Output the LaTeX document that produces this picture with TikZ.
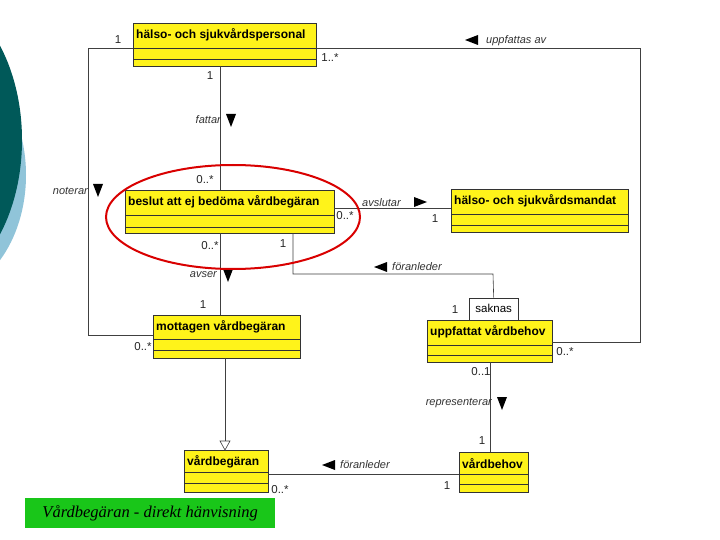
\documentclass[tikz,border=0pt]{standalone}
\usepackage{fontspec}
\setmainfont{Liberation Sans}
\newfontfamily\serifit{Liberation Serif}
\begin{document}
\begin{tikzpicture}[x=1pt,y=-1pt,
  lbl/.style={font=\fontsize{11.5}{13}\selectfont,inner sep=0pt,text=black!85},
  rl/.style={font=\fontsize{11}{13}\selectfont\itshape,inner sep=0pt,text=black!80},
  ln/.style={draw=black!75,line width=0.6pt},
  cn/.style={font=\fontsize{12}{14}\selectfont\bfseries,inner sep=0pt}]
\useasboundingbox (0,0) rectangle (720,540);
\fill[white] (0,0) rectangle (720,540);
% decoration
\fill[cyan!40!teal!50!white] (-62,175) ellipse (88 and 120);
\fill[teal!70!black] (-80,140) ellipse (102 and 152);
\tikzset{cls/.pic={\fill[yellow!90!white] (0,0) rectangle (\pw,\ph);
  \draw[black!80,line width=0.6pt] (0,0) rectangle (\pw,\ph);
  \draw[black!80,line width=0.6pt] (0,\pa) -- (\pw,\pa) (0,\pb) -- (\pw,\pb);}}
\newcommand\mkcls[8]{% name x y w h a b text
  \def\pw{#4}\def\ph{#5}\def\pa{#6}\def\pb{#7}
  \pic at (#2,#3) {cls};
  \node[cn,anchor=west] (#1) at (#2+3,#3+11.5) {#8};}
\mkcls{A}{133}{23}{183}{43}{25}{36}{hälso- och sjukvårdspersonal}
\mkcls{B}{125}{190}{209}{43}{25}{37}{beslut att ej bedöma vårdbegäran}
\mkcls{C}{451}{189}{177}{43}{25}{36}{hälso- och sjukvårdsmandat}
\mkcls{D}{153}{315}{147}{43}{24}{35}{mottagen vårdbegäran}
\mkcls{E}{427}{320}{125}{42}{25}{35}{uppfattat vårdbehov}
\mkcls{F}{184}{450}{84}{42}{22}{33}{vårdbegäran}
\mkcls{G}{459}{452}{69}{40}{22}{32}{vårdbehov}
\node[draw=black!80,fill=white,minimum width=49pt,minimum height=22pt,inner sep=0pt,anchor=south west,font=\fontsize{11.5}{13}\selectfont] (S) at (469,320) {saknas};
% connectors
\coordinate (a1) at (133,48); \coordinate (a2) at (88,48); \coordinate (a3) at (88,335); \coordinate (d1) at (153,335);
\draw[ln] (a1) -- (a2) -- (a3) -- (d1);
\coordinate (a4) at (316,48); \coordinate (a5) at (640,48); \coordinate (a6) at (640,342); \coordinate (e1) at (552,342);
\draw[ln] (a4) -- (a5) -- (a6) -- (e1);
\coordinate (a7) at (220,66); \coordinate (b1) at (220,190);
\draw[ln] (a7) -- (b1);
\coordinate (b2) at (334,208); \coordinate (c1) at (451,208);
\draw[ln] (b2) -- (c1);
\coordinate (b3) at (220,233); \coordinate (d2) at (220,315);
\draw[ln] (b3) -- (d2);
\coordinate (b4) at (293,233); \coordinate (b5) at (293,274); \coordinate (s1) at (493,274);
\draw[ln] (b4) -- (b5) -- (s1) -- (S.north);
\coordinate (d3) at (225,358); \coordinate (f1) at (225,450);
\draw[ln] (d3) -- (225,441);
\draw[ln,fill=white] (f1) -- (220,441) -- (230,441) -- cycle;
\coordinate (e2) at (490,362); \coordinate (g1) at (490,452);
\draw[ln] (e2) -- (g1);
\coordinate (g2) at (459,474); \coordinate (f2) at (268,474);
\draw[ln] (g2) -- (f2);
\newcommand\tdown[2]{\fill (#1-5,#2-6) -- (#1+5,#2-6) -- (#1,#2+7) -- cycle;}
\newcommand\tright[2]{\fill (#1-6,#2-5) -- (#1-6,#2+5) -- (#1+7,#2) -- cycle;}
\newcommand\tleft[2]{\fill (#1+6,#2-5) -- (#1+6,#2+5) -- (#1-7,#2) -- cycle;}
% labels
\node[lbl] at (118,40) {1};
\node[lbl] at (143,347) {0..*};
\node[rl,anchor=east] at (88,191) {noterar}; \tdown{98}{190}
\node[lbl] at (330,58) {1..*};
\node[lbl] at (565,352) {0..*};
\tleft{472}{40}\node[rl,anchor=west] at (486,41) {uppfattas av};
\node[lbl] at (210,76) {1};
\node[rl,anchor=east] at (221,120) {fattar}; \tdown{231}{120}
\node[lbl] at (205,180) {0..*};
\node[rl,anchor=west] at (362,203) {avslutar}; \tright{420}{202}
\node[lbl] at (345,216) {0..*};
\node[lbl] at (435,219) {1};
\node[lbl] at (210,246) {0..*};
\node[lbl] at (283,244) {1};
\node[rl,anchor=east] at (217,275) {avser}; \tdown{228}{275}
\node[lbl] at (203,305) {1};
\tleft{381}{267}\node[rl,anchor=west] at (392,267) {föranleder};
\node[lbl] at (455,310) {1};
\node[lbl] at (481,372) {0..1};
\node[rl,anchor=east] at (492,403) {representerar}; \tdown{502}{403}
\node[lbl] at (482,441) {1};
\tleft{329}{465}\node[rl,anchor=west] at (340,465) {föranleder};
\node[lbl] at (280,490) {0..*};
\node[lbl] at (447,486) {1};
\draw[red!85!black,line width=2pt] (233,217) ellipse (127 and 52);
\node[fill=green!75!black!90,minimum width=250pt,minimum height=30pt,inner sep=0pt,anchor=north west,font=\serifit\itshape\fontsize{16.5}{18}\selectfont] (cap) at (25,498) {Vårdbegäran - direkt hänvisning};
\end{tikzpicture}
\end{document}
